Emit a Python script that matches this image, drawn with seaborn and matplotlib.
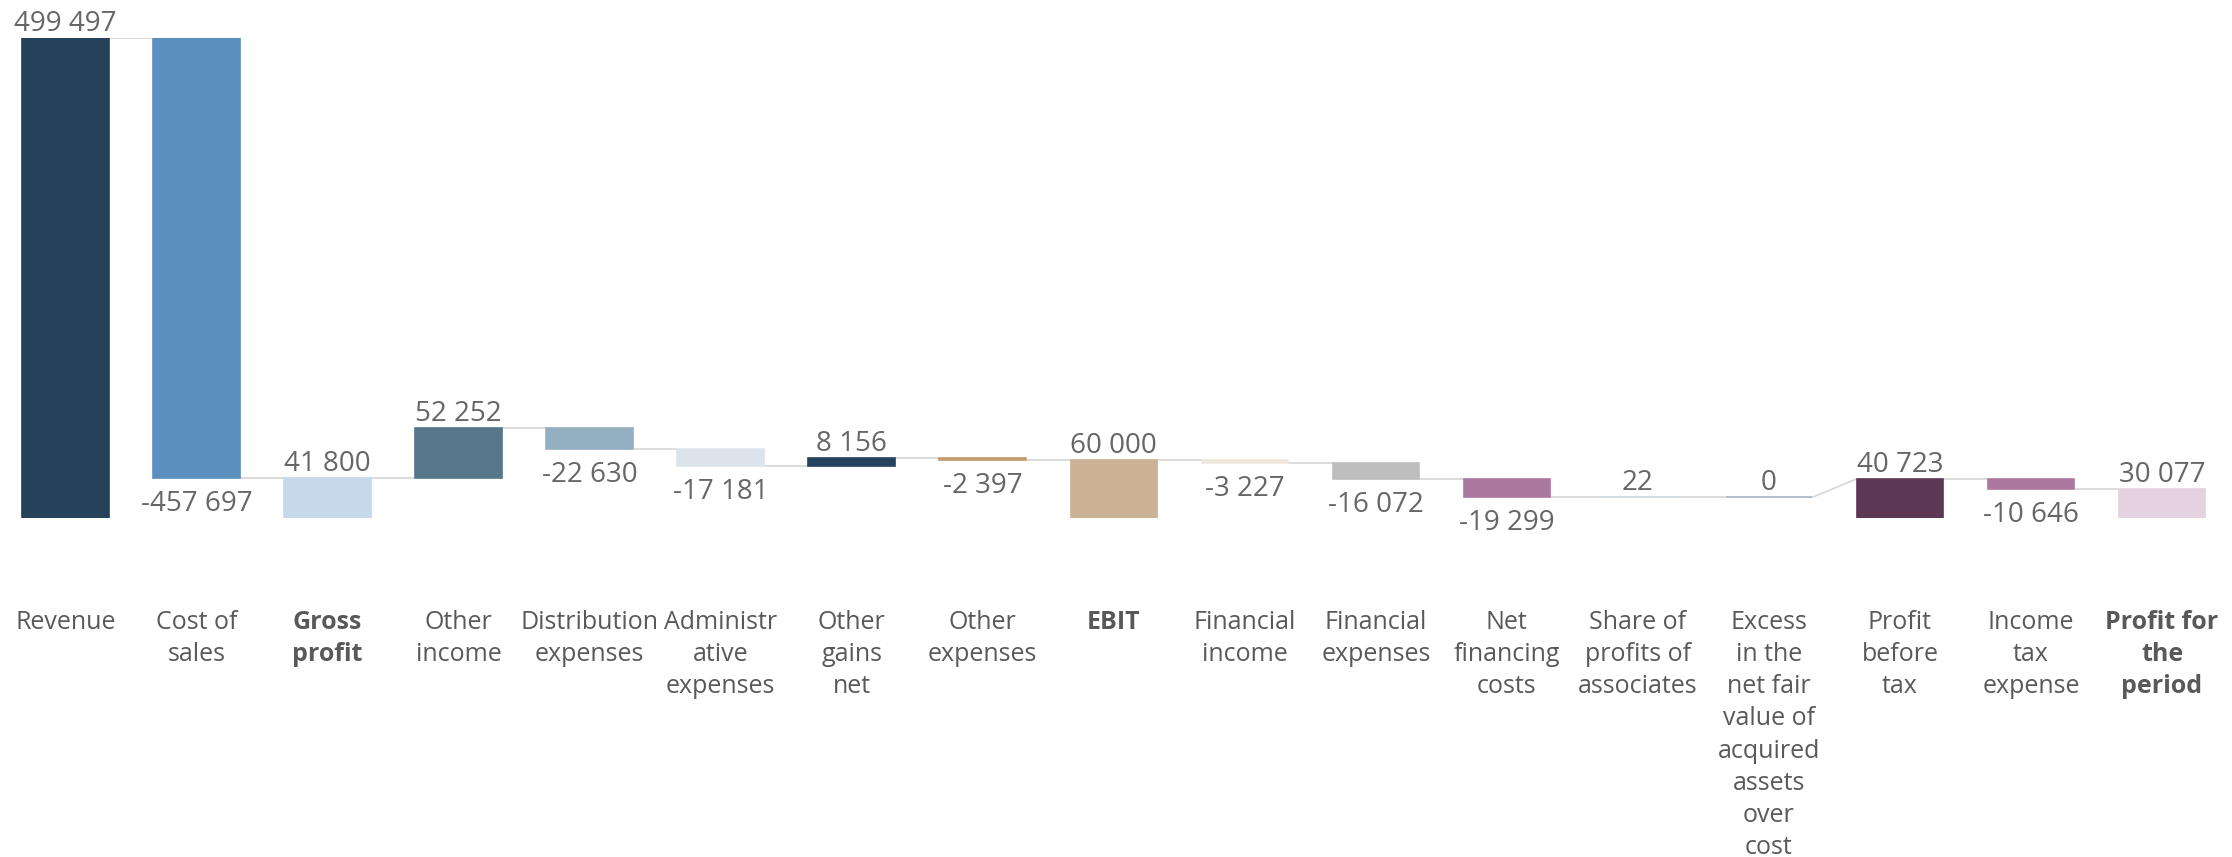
import matplotlib
matplotlib.use("Agg")
import matplotlib.pyplot as plt
import pandas as pd
import seaborn as sns

# Income statement waterfall
categories = [
    "Revenue", "Cost of sales", "Gross profit", "Other income",
    "Distribution expenses", "Administrative expenses", "Other gains net",
    "Other expenses", "EBIT", "Financial income", "Financial expenses",
    "Net financing costs", "Share of profits of associates",
    "Excess in the net fair value of acquired assets over cost",
    "Profit before tax", "Income tax expense", "Profit for the period",
]
tick_labels = [
    "Revenue", "Cost of\nsales", "Gross\nprofit", "Other\nincome",
    "Distribution\nexpenses", "Administr\native\nexpenses", "Other\ngains\nnet",
    "Other\nexpenses", "EBIT", "Financial\nincome", "Financial\nexpenses",
    "Net\nfinancing\ncosts", "Share of\nprofits of\nassociates",
    "Excess\nin the\nnet fair\nvalue of\nacquired\nassets\nover\ncost",
    "Profit\nbefore\ntax", "Income\ntax\nexpense", "Profit for\nthe\nperiod",
]
values = [499497, -457697, 41800, 52252, -22630, -17181, 8156, -2397, 60000,
          -3227, -16072, -19299, 22, 0, 40723, -10646, 30077]
is_total = [True, False, True, False, False, False, False, False, True,
            False, False, False, False, False, True, False, True]
bold_categories = ["Gross profit", "EBIT", "Profit for the period"]
bar_colors = [
    "#26415a", "#5b8fbd", "#c6d9ea", "#557789", "#93afc1", "#dce4eb",
    "#25425e", "#c49a6c", "#cbb294", "#efe7dc", "#bfbebe", "#ad78a0",
    "#cdd6df", "#a3b4c6", "#5d3854", "#ad78a0", "#e4d2e1",
]

# running start / end of each step
starts, ends = [], []
running = 0
for v, tot in zip(values, is_total):
    if tot:
        starts.append(0)
        ends.append(v)
        running = v
    else:
        starts.append(running)
        running += v
        ends.append(running)

lower = [min(s, e) for s, e in zip(starts, ends)]
upper = [max(s, e) for s, e in zip(starts, ends)]

df = pd.DataFrame({"category": categories, "upper": upper})

sns.set_theme(style="white")
plt.rcParams["font.family"] = ["Open Sans", "DejaVu Sans"]

BAR_W = 0.66
fig = plt.figure(figsize=(22.32, 8.57), dpi=100)
ax = fig.add_axes([0.0, 0.3956, 0.998, 0.5601])

sns.barplot(data=df, x="category", y="upper", hue="category",
            palette=bar_colors, legend=False, width=BAR_W, saturation=1,
            ax=ax, zorder=3)

# place each bar between its lower and upper level
for i, patch in enumerate(ax.patches[:len(categories)]):
    patch.set_y(lower[i])
    patch.set_height(upper[i] - lower[i])
    patch.set_edgecolor(bar_colors[i])
    patch.set_linewidth(1.2)

# connectors between consecutive bars
for i in range(len(categories) - 1):
    y0 = ends[i]
    y1 = ends[i + 1] if is_total[i + 1] else starts[i + 1]
    ax.plot([i + BAR_W / 2, i + 1 - BAR_W / 2], [y0, y1],
            color="#d9d9d9", lw=1.3, zorder=2, solid_capstyle="butt")


def fmt(v):
    return f"{v:,}".replace(",", " ")


for i, v in enumerate(values):
    if is_total[i] or v >= 0:
        ax.annotate(fmt(v), (i, upper[i]), xytext=(0, 7),
                    textcoords="offset pixels", ha="center", va="baseline",
                    fontsize=20, color="#666666", annotation_clip=False)
    else:
        ax.annotate(fmt(v), (i, lower[i]), xytext=(0, -33),
                    textcoords="offset pixels", ha="center", va="baseline",
                    fontsize=20, color="#666666", annotation_clip=False)

ax.set_xlim(-0.5, len(categories) - 0.5)
ax.set_ylim(0, values[0])
ax.set_xticks(range(len(categories)))
ax.set_xticklabels(tick_labels, fontsize=18, color="#595959", linespacing=1.38)
for lbl, cat in zip(ax.get_xticklabels(), categories):
    if cat in bold_categories:
        lbl.set_fontweight("bold")
ax.tick_params(axis="x", length=0, pad=66)
ax.set_yticks([])
ax.set_xlabel("")
ax.set_ylabel("")
sns.despine(ax=ax, left=True, bottom=True)
ax.set_facecolor("white")
fig.patch.set_facecolor("white")

fig.savefig("out.png", dpi=100, facecolor="white")
